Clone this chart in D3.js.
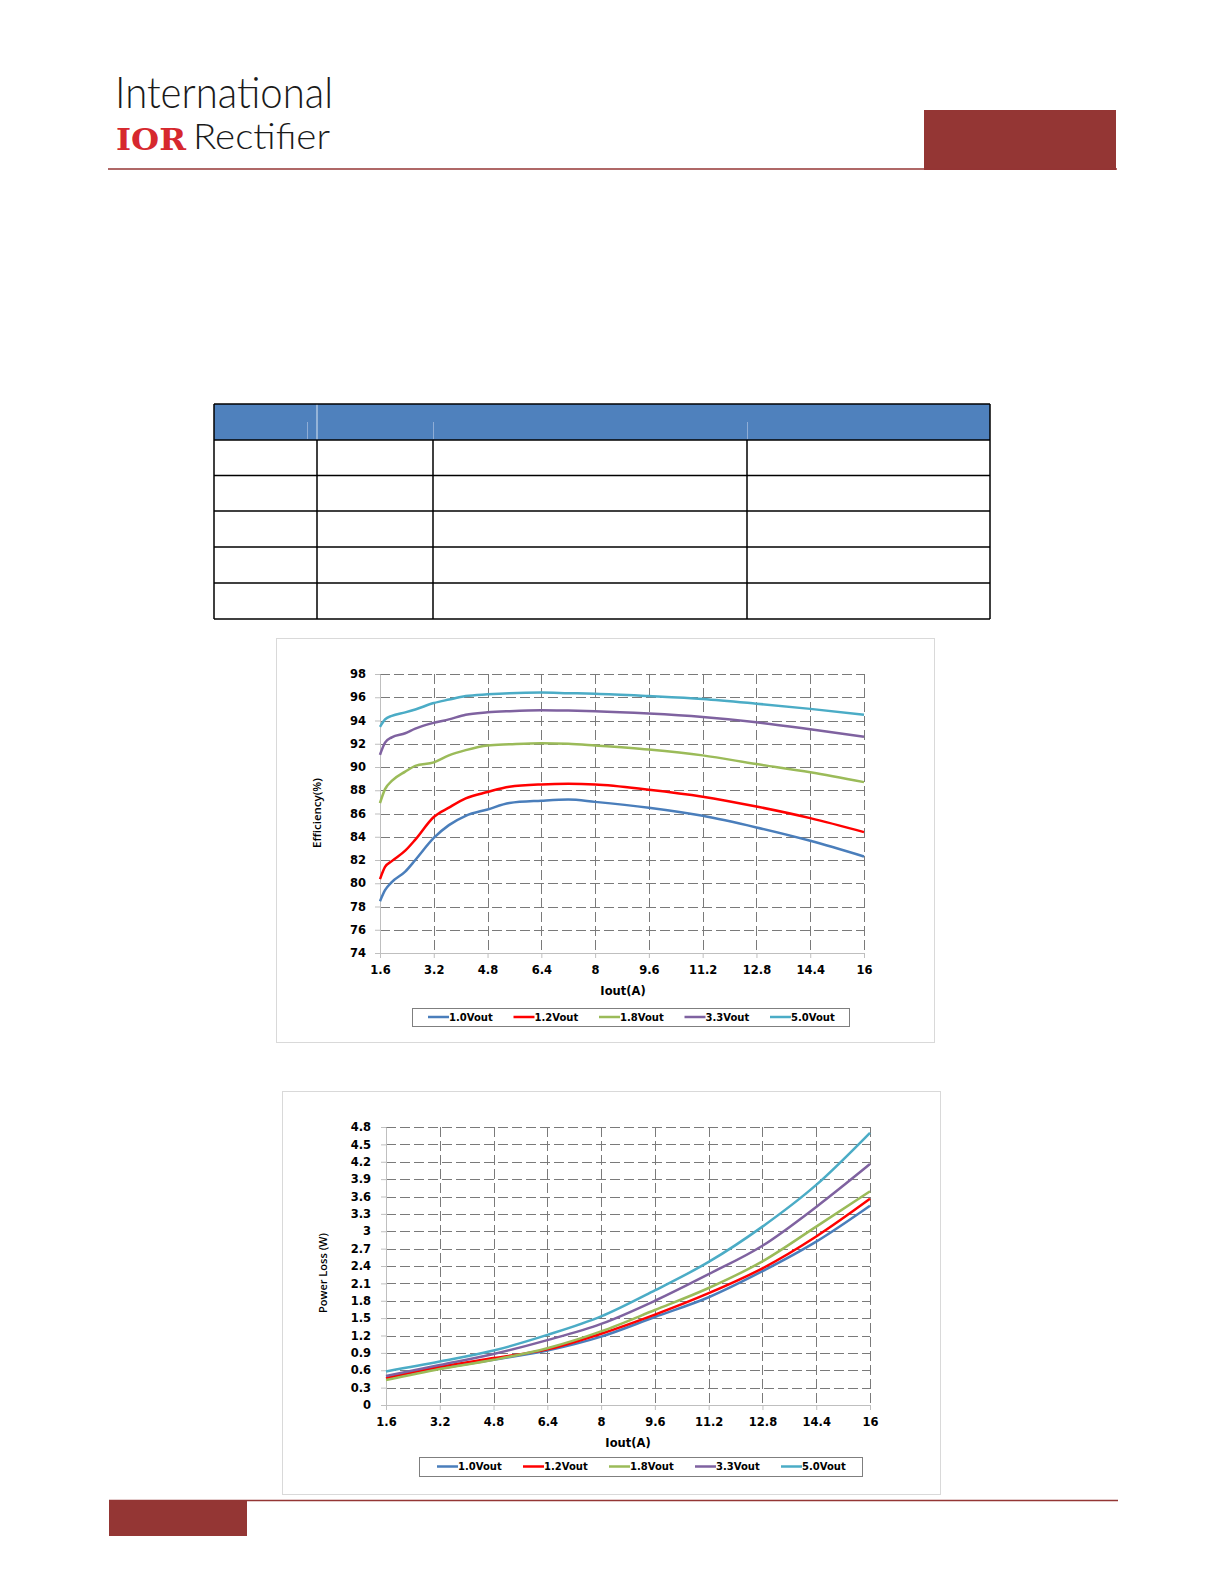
<!DOCTYPE html>
<html>
<head>
<meta charset="utf-8">
<script src="https://cdn.jsdelivr.net/npm/d3@7"></script>
<style>
  body { margin: 0; background: #fff; }
  svg { display: block; }
</style>
</head>
<body>
<script>
// ---- data ----
var seriesNames = ["1.0Vout", "1.2Vout", "1.8Vout", "3.3Vout", "5.0Vout"];
var xTicks = [1.6, 3.2, 4.8, 6.4, 8, 9.6, 11.2, 12.8, 14.4, 16];

// efficiency (%) vs Iout (A)
var effX  = [1.6, 1.75, 1.95, 2.35, 2.65, 3.2, 3.65, 4.15, 4.8, 5.45, 6.4, 7.2, 8, 9.6, 11.2, 12.8, 14.4, 16];
var eff10 = [78.45, 79.4, 80.1, 81.0, 82.0, 83.9, 85.0, 85.8, 86.35, 86.9, 87.1, 87.2, 87.0, 86.5, 85.8, 84.8, 83.65, 82.3];
var eff12 = [80.35, 81.4, 81.9, 82.8, 83.75, 85.7, 86.5, 87.3, 87.85, 88.3, 88.5, 88.55, 88.5, 88.05, 87.45, 86.6, 85.6, 84.4];
var eff18 = [86.9, 88.1, 88.8, 89.6, 90.1, 90.4, 91.0, 91.45, 91.85, 91.95, 92.05, 92.0, 91.85, 91.5, 91.0, 90.25, 89.55, 88.7];
var eff33 = [91.05, 92.1, 92.55, 92.9, 93.3, 93.8, 94.1, 94.5, 94.7, 94.8, 94.88, 94.85, 94.8, 94.6, 94.3, 93.85, 93.25, 92.6];
var eff50 = [93.45, 94.1, 94.4, 94.7, 94.95, 95.5, 95.8, 96.1, 96.25, 96.35, 96.4, 96.35, 96.3, 96.1, 95.85, 95.45, 95.0, 94.5];
var effTicks = [74, 76, 78, 80, 82, 84, 86, 88, 90, 92, 94, 96, 98];

// power loss (W) vs Iout (A)
var lossX  = [1.6, 3.2, 4.8, 6.4, 8, 9.6, 11.2, 12.8, 14.4, 16];
var loss10 = [0.49, 0.63, 0.78, 0.94, 1.18, 1.52, 1.86, 2.31, 2.82, 3.44];
var loss12 = [0.46, 0.66, 0.81, 0.96, 1.23, 1.56, 1.93, 2.36, 2.91, 3.56];
var loss18 = [0.43, 0.62, 0.78, 0.98, 1.27, 1.64, 2.02, 2.48, 3.08, 3.69];
var loss33 = [0.50, 0.69, 0.88, 1.12, 1.40, 1.80, 2.26, 2.75, 3.42, 4.16];
var loss50 = [0.58, 0.75, 0.94, 1.21, 1.53, 1.98, 2.47, 3.08, 3.80, 4.70];
var lossTicks = [0, 0.3, 0.6, 0.9, 1.2, 1.5, 1.8, 2.1, 2.4, 2.7, 3, 3.3, 3.6, 3.9, 4.2, 4.5, 4.8];

var colors = ["#4a7ebb", "#ff0000", "#9bbb59", "#7f62a0", "#4bacc6"];
var maroon = "#943634";
var tickFont = "'DejaVu Sans', sans-serif";

var svg = d3.select("body").append("svg")
    .attr("width", 1224)
    .attr("height", 1584);

// ---- page header ----
svg.append("text")
    .attr("x", 115).attr("y", 108)
    .attr("textLength", 218).attr("lengthAdjust", "spacingAndGlyphs")
    .style("font-family", "Lato, sans-serif").style("font-weight", 300)
    .style("font-size", "43px").style("fill", "#1a1a1a")
    .text("International");
svg.append("text")
    .attr("x", 116).attr("y", 150)
    .attr("textLength", 70).attr("lengthAdjust", "spacingAndGlyphs")
    .style("font-family", "'DejaVu Serif', serif").style("font-weight", "bold")
    .style("font-size", "30px").style("fill", "#d6282e")
    .text("IOR");
svg.append("text")
    .attr("x", 193).attr("y", 149)
    .attr("textLength", 137).attr("lengthAdjust", "spacingAndGlyphs")
    .style("font-family", "Lato, sans-serif").style("font-weight", 300)
    .style("font-size", "36px").style("fill", "#1a1a1a")
    .text("Rectifier");

svg.append("rect").attr("x", 924).attr("y", 110).attr("width", 192).attr("height", 60).attr("fill", maroon);
svg.append("line").attr("x1", 108).attr("x2", 1117).attr("y1", 169).attr("y2", 169)
    .attr("stroke", maroon).attr("stroke-width", 1.5);

// ---- footer ----
svg.append("line").attr("x1", 109).attr("x2", 1118).attr("y1", 1500.5).attr("y2", 1500.5)
    .attr("stroke", maroon).attr("stroke-width", 1.5);
svg.append("rect").attr("x", 109).attr("y", 1500).attr("width", 138).attr("height", 36).attr("fill", maroon);

// ---- empty table ----
var colX = [214, 317, 433, 747, 990];
var rowY = [404, 440, 475.5, 511, 547, 583, 619];
var tbl = svg.append("g");
tbl.append("rect").attr("x", colX[0]).attr("y", rowY[0])
    .attr("width", colX[4] - colX[0]).attr("height", rowY[1] - rowY[0])
    .attr("fill", "#4f81bd");
// faint cell edges inside the blue header
tbl.append("line").attr("x1", colX[1]).attr("x2", colX[1]).attr("y1", rowY[0]).attr("y2", rowY[1])
    .attr("stroke", "#dce6f2").attr("stroke-width", 1);
tbl.selectAll(".hc").data(colX.slice(1, 4)).enter().append("line")
    .attr("x1", function(d, i){ return d - (i == 0 ? 10 : 0) + 0.5; })
    .attr("x2", function(d, i){ return d - (i == 0 ? 10 : 0) + 0.5; })
    .attr("y1", rowY[0] + 18).attr("y2", rowY[1] - 1)
    .attr("stroke", "#8fadd6").attr("stroke-width", 1);

tbl.selectAll(".hl").data(rowY).enter().append("line")
    .attr("x1", colX[0]).attr("x2", colX[4])
    .attr("y1", function(d){ return d; }).attr("y2", function(d){ return d; })
    .attr("stroke", "#000").attr("stroke-width", 1.5);
tbl.selectAll(".vl").data(colX).enter().append("line")
    .attr("x1", function(d){ return d; }).attr("x2", function(d){ return d; })
    .attr("y1", function(d, i){ return (i == 0 || i == 4) ? rowY[0] : rowY[1]; })
    .attr("y2", rowY[rowY.length - 1])
    .attr("stroke", "#000").attr("stroke-width", 1.5);

// ---- charts ----
function drawChart(c) {
    var g = svg.append("g");
    g.append("rect")
        .attr("x", c.frame[0] + 0.5).attr("y", c.frame[1] + 0.5)
        .attr("width", c.frame[2] - c.frame[0]).attr("height", c.frame[3] - c.frame[1])
        .attr("fill", "#fff").attr("stroke", "#d9d9d9");

    var x = d3.scaleLinear().domain([1.6, 16]).range([c.left, c.right]);
    var y = d3.scaleLinear().domain([c.yTicks[0], c.yTicks[c.yTicks.length - 1]]).range([c.bottom, c.top]);

    // dashed grid
    g.selectAll(".hg").data(c.yTicks.slice(1)).enter().append("line")
        .attr("x1", c.left).attr("x2", c.right)
        .attr("y1", function(d){ return Math.round(y(d)) + 0.5; })
        .attr("y2", function(d){ return Math.round(y(d)) + 0.5; })
        .attr("stroke", "#7a7a7a").attr("stroke-dasharray", "10,4");
    g.selectAll(".vg").data(xTicks.slice(1)).enter().append("line")
        .attr("x1", function(d){ return Math.round(x(d)) + 0.5; })
        .attr("x2", function(d){ return Math.round(x(d)) + 0.5; })
        .attr("y1", c.top).attr("y2", c.bottom)
        .attr("stroke", "#7a7a7a").attr("stroke-dasharray", "10,4");

    var xAxis = d3.axisBottom(x).tickValues(xTicks).tickSize(5).tickSizeOuter(0)
        .tickPadding(8).tickFormat(d3.format("~g"));
    var yAxis = d3.axisLeft(y).tickValues(c.yTicks).tickSize(5).tickSizeOuter(0)
        .tickPadding(c.yPad).tickFormat(d3.format("~g"));

    var gx = g.append("g").attr("transform", "translate(0," + c.bottom + ")").call(xAxis);
    var gy = g.append("g").attr("transform", "translate(" + c.left + ",0)").call(yAxis);
    [gx, gy].forEach(function(a) {
        a.select(".domain").attr("stroke", "#bfbfbf");
        a.selectAll(".tick line").attr("stroke", "#bfbfbf");
        a.selectAll(".tick text")
            .style("font-family", tickFont).style("font-weight", "bold")
            .style("font-size", "11.5px").style("fill", "#000");
    });

    // curves
    var line = d3.line()
        .curve(d3.curveMonotoneX)
        .x(function(d){ return x(d[0]); })
        .y(function(d){ return y(d[1]); });
    c.series.forEach(function(s, i) {
        g.append("path")
            .datum(c.xs.map(function(v, j){ return [v, s[j]]; }))
            .attr("d", line)
            .attr("fill", "none")
            .attr("stroke", colors[i])
            .attr("stroke-width", 2.5)
            .attr("stroke-linejoin", "round");
    });

    // axis titles
    g.append("text")
        .attr("x", c.xTitle[0]).attr("y", c.xTitle[1])
        .attr("text-anchor", "middle").attr("dy", "0.35em")
        .style("font-family", tickFont).style("font-weight", "bold").style("font-size", "11.5px")
        .text("Iout(A)");
    g.append("text")
        .attr("transform", "translate(" + c.yTitle[0] + "," + c.yTitle[1] + ") rotate(-90)")
        .attr("text-anchor", "middle").attr("dy", "0.35em")
        .style("font-family", "'Open Sans', sans-serif").style("font-weight", 600)
        .style("font-size", c.yTitleSize)
        .text(c.yLabel);

    // legend
    var lg = g.append("g");
    lg.append("rect")
        .attr("x", c.legend[0] + 0.5).attr("y", c.legend[1] + 0.5)
        .attr("width", c.legend[2] - c.legend[0]).attr("height", c.legend[3] - c.legend[1])
        .attr("fill", "#fff").attr("stroke", "#7f7f7f");
    var ly = (c.legend[1] + c.legend[3]) / 2;
    var item = lg.selectAll(".item").data(seriesNames).enter().append("g")
        .attr("transform", function(d, i){ return "translate(" + (c.legendStart + i * c.legendStep) + "," + ly + ")"; });
    item.append("line").attr("x1", 0).attr("x2", 21).attr("y1", 0).attr("y2", 0)
        .attr("stroke", function(d, i){ return colors[i]; }).attr("stroke-width", 2.5);
    item.append("text").attr("x", 21).attr("dy", "0.36em")
        .style("font-family", tickFont).style("font-weight", "bold").style("font-size", "10px")
        .text(function(d){ return d; });
}

drawChart({
    frame: [276, 638, 934, 1042],
    left: 380, right: 864, top: 674, bottom: 953,
    yTicks: effTicks, yPad: 9,
    xs: effX, series: [eff10, eff12, eff18, eff33, eff50],
    xTitle: [623, 991], yTitle: [317, 813], yLabel: "Efficiency(%)", yTitleSize: "11.5px",
    legend: [412, 1008, 849, 1026], legendStart: 428, legendStep: 85.5
});

drawChart({
    frame: [282, 1091, 940, 1494],
    left: 386, right: 870, top: 1127, bottom: 1405,
    yTicks: lossTicks, yPad: 10,
    xs: lossX, series: [loss10, loss12, loss18, loss33, loss50],
    xTitle: [628, 1443], yTitle: [323, 1273], yLabel: "Power Loss (W)", yTitleSize: "11px",
    legend: [419, 1457, 862, 1476], legendStart: 437, legendStep: 86
});
</script>
</body>
</html>
